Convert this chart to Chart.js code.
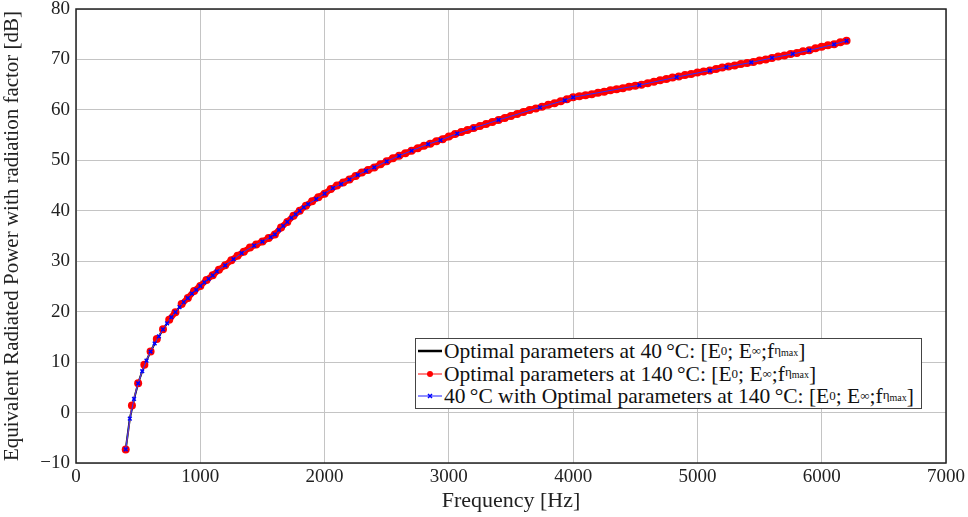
<!DOCTYPE html>
<html>
<head>
<meta charset="utf-8">
<script src="https://cdn.jsdelivr.net/npm/chart.js@4.4.0/dist/chart.umd.min.js"></script>
<style>
  body { margin: 0; background: #fff; }
  #wrap { position: relative; width: 968px; height: 517px; }
  #legend {
    position: absolute; left: 415px; top: 338px; width: 505px; height: 68px;
    border: 1.3px solid #444; background: #fff;
    font-family: 'Liberation Serif', serif; font-size: 21.5px; color: #111;
    padding-top: 1px;
  }
  #legend .row { height: 22.5px; line-height: 22px; white-space: nowrap; display: flex; align-items: center; }
  #legend svg { margin-left: 2px; margin-right: 2px; flex: none; }
  #legend sub { font-size: 13px; vertical-align: -4px; }
  #legend sub sub { font-size: 10px; vertical-align: -2px; }
</style>
</head>
<body>
<div id="wrap">
  <canvas id="myChart" width="968" height="517"></canvas>
  <div id="legend">
    <div class="row"><svg width="24" height="10"><line x1="0" y1="5" x2="24" y2="5" stroke="#000" stroke-width="2.5"/></svg>Optimal parameters at 40&#8201;°C: [E<sub>0</sub>; E<sub>∞</sub>;f<sub>η<sub>max</sub></sub>]</div>
    <div class="row"><svg width="24" height="10"><line x1="0" y1="5" x2="24" y2="5" stroke="#ff5a5a" stroke-width="1.5"/><circle cx="12" cy="5" r="3" fill="#f00"/></svg>Optimal parameters at 140&#8201;°C: [E<sub>0</sub>; E<sub>∞</sub>;f<sub>η<sub>max</sub></sub>]</div>
    <div class="row"><svg width="24" height="10"><line x1="0" y1="5" x2="24" y2="5" stroke="#6a6aff" stroke-width="1.5"/><path d="M10 3 L14 7 M14 3 L10 7" stroke="#00f" stroke-width="1.5"/></svg>40&#8201;°C with Optimal parameters at 140&#8201;°C: [E<sub>0</sub>; E<sub>∞</sub>;f<sub>η<sub>max</sub></sub>]</div>
  </div>
</div>
<script>
// 140 °C optimal parameters (dense)
const redFreq = [400, 450, 500, 550, 600, 650, 700, 750, 800, 850, 900, 950, 1000, 1050, 1100, 1150, 1200, 1250, 1300, 1350,
  1400, 1450, 1500, 1550, 1600, 1650, 1700, 1750, 1800, 1850, 1900, 1950, 2000, 2050, 2100, 2150, 2200, 2250, 2300, 2350,
  2400, 2450, 2500, 2550, 2600, 2650, 2700, 2750, 2800, 2850, 2900, 2950, 3000, 3050, 3100, 3150, 3200, 3250, 3300, 3350,
  3400, 3450, 3500, 3550, 3600, 3650, 3700, 3750, 3800, 3850, 3900, 3950, 4000, 4050, 4100, 4150, 4200, 4250, 4300, 4350,
  4400, 4450, 4500, 4550, 4600, 4650, 4700, 4750, 4800, 4850, 4900, 4950, 5000, 5050, 5100, 5150, 5200, 5250, 5300, 5350,
  5400, 5450, 5500, 5550, 5600, 5650, 5700, 5750, 5800, 5850, 5900, 5950, 6000, 6050, 6100, 6150, 6200];
const redDb = [-7.3, 1.4, 5.8, 9.5, 12.1, 14.6, 16.5, 18.4, 19.9, 21.5, 22.7, 24.1, 25.1, 26.3, 27.2, 28.3, 29.2, 30.2, 31.1, 31.9,
  32.7, 33.3, 33.9, 34.6, 35.3, 36.7, 37.8, 39.0, 40.0, 41.0, 41.9, 42.7, 43.4, 44.3, 45.0, 45.6, 46.2, 46.9, 47.6, 48.1,
  48.6, 49.2, 49.8, 50.4, 50.9, 51.4, 51.9, 52.4, 52.9, 53.3, 53.8, 54.2, 54.7, 55.2, 55.6, 56.0, 56.4, 56.8, 57.2, 57.6,
  58.0, 58.4, 58.8, 59.2, 59.6, 60.0, 60.3, 60.6, 61.0, 61.3, 61.7, 62.1, 62.5, 62.7, 62.9, 63.1, 63.4, 63.6, 63.9, 64.1,
  64.3, 64.6, 64.8, 65.0, 65.3, 65.6, 65.9, 66.1, 66.4, 66.6, 66.9, 67.1, 67.4, 67.6, 67.8, 68.1, 68.4, 68.6, 68.8, 69.1,
  69.3, 69.5, 69.8, 70.0, 70.3, 70.6, 70.8, 71.1, 71.3, 71.6, 71.8, 72.2, 72.5, 72.8, 73.0, 73.4, 73.7];

// 40 °C with 140 °C parameters
const blueFreq = [400, 433, 467, 500, 533, 567, 600, 633, 667, 700, 733, 767, 800, 833, 867, 900, 933, 967, 1000, 1033,
  1067, 1100, 1133, 1200, 1267, 1333, 1433, 1500, 1567, 1600, 1633, 1667, 1700, 1733, 1767, 1800, 1833, 1867, 1933, 2000,
  2067, 2133, 2200, 2267, 2333, 2400, 2500, 2600, 2700, 2833, 2933, 3067, 3200, 3400, 3733, 3933, 4000, 4533, 4833, 5100,
  5233, 5433, 5600, 5767, 5900, 6100, 6200];
const blueDb = [-7.3, -1.2, 2.7, 5.8, 8.2, 10.3, 12.1, 13.7, 15.1, 16.5, 17.7, 18.9, 19.9, 20.9, 21.9, 22.7, 23.6, 24.3, 25.1, 25.8,
  26.5, 27.2, 28.0, 29.2, 30.4, 31.6, 33.1, 33.9, 34.8, 35.3, 36.2, 37.0, 37.8, 38.6, 39.3, 40.0, 40.7, 41.3, 42.3, 43.4,
  44.5, 45.3, 46.2, 47.1, 47.9, 48.6, 49.8, 50.9, 51.9, 53.2, 54.0, 55.3, 56.4, 58.0, 60.5, 61.9, 62.5, 64.9, 66.5, 67.8,
  68.5, 69.4, 70.3, 71.1, 71.8, 73.0, 73.7];

const toPts = (xs, ys) => xs.map((x, i) => ({ x: x, y: ys[i] }));

const serif = "'Liberation Serif', serif";

// long steep segments stay thin, short ones blend into a marker band
const segLen = (c) => Math.hypot(c.p1.x - c.p0.x, c.p1.y - c.p0.y);

const framePlugin = {
  id: 'frame',
  afterDraw(chart) {
    const { ctx, chartArea: a } = chart;
    ctx.save();
    ctx.strokeStyle = '#222';
    ctx.lineWidth = 1.5;
    ctx.strokeRect(a.left, a.top, a.right - a.left, a.bottom - a.top);
    ctx.restore();
  },
};

const ctx = document.getElementById('myChart').getContext('2d');
const myChart = new Chart(ctx, {
  type: 'line',
  data: {
    datasets: [
      {
        label: 'Optimal parameters at 40 °C',
        data: toPts(blueFreq, blueDb),
        borderColor: '#000',
        borderWidth: 2,
        pointRadius: 0,
        order: 3,
      },
      {
        label: 'Optimal parameters at 140 °C',
        data: toPts(redFreq, redDb),
        borderColor: '#ff0000',
        borderWidth: 6,
        segment: {
          borderWidth: (c) => (segLen(c) > 10 ? 1 : 6),
          borderColor: (c) => (segLen(c) > 10 ? '#ff6060' : '#ff0000'),
        },
        pointRadius: 4,
        pointBackgroundColor: '#ff0000',
        pointBorderColor: '#ff0000',
        pointBorderWidth: 0,
        order: 2,
      },
      {
        label: '40 °C with Optimal parameters at 140 °C',
        data: toPts(blueFreq, blueDb),
        borderColor: '#3030ff',
        borderWidth: 1,
        pointStyle: 'crossRot',
        pointRadius: 2.6,
        pointBorderColor: '#0000ff',
        pointBorderWidth: 1.5,
        order: 1,
      },
    ],
  },
  options: {
    responsive: false,
    animation: false,
    layout: { padding: { left: 0, top: 9, right: 20, bottom: 0 } },
    plugins: {
      legend: { display: false },
      tooltip: { enabled: false },
    },
    scales: {
      x: {
        type: 'linear',
        min: 0,
        max: 7000,
        afterFit: (s) => { s.height = 54; },
        grid: { color: '#c4c4c4', lineWidth: 1, drawTicks: false },
        border: { display: false },
        ticks: {
          stepSize: 1000,
          padding: 3,
          color: '#222',
          font: { family: serif, size: 19 },
          maxRotation: 0,
          callback: (v) => String(v),
        },
        title: {
          display: true,
          text: 'Frequency [Hz]',
          color: '#222',
          font: { family: serif, size: 22 },
          padding: { top: 0, bottom: 3 },
        },
      },
      y: {
        min: -10,
        max: 80,
        afterFit: (s) => { s.width = 76; s.paddingTop = 0; s.paddingBottom = 0; },
        grid: { color: '#c4c4c4', lineWidth: 1, drawTicks: false },
        border: { display: false },
        ticks: {
          stepSize: 10,
          padding: 6,
          color: '#222',
          font: { family: serif, size: 19 },
          callback: (v) => String(v).replace('-', '\u2212'),
        },
        title: {
          display: true,
          text: 'Equivalent Radiated Power with radiation factor [dB]',
          color: '#222',
          font: { family: serif, size: 21 },
          padding: { top: 0, bottom: 0 },
        },
      },
    },
  },
  plugins: [framePlugin],
});
</script>
</body>
</html>
